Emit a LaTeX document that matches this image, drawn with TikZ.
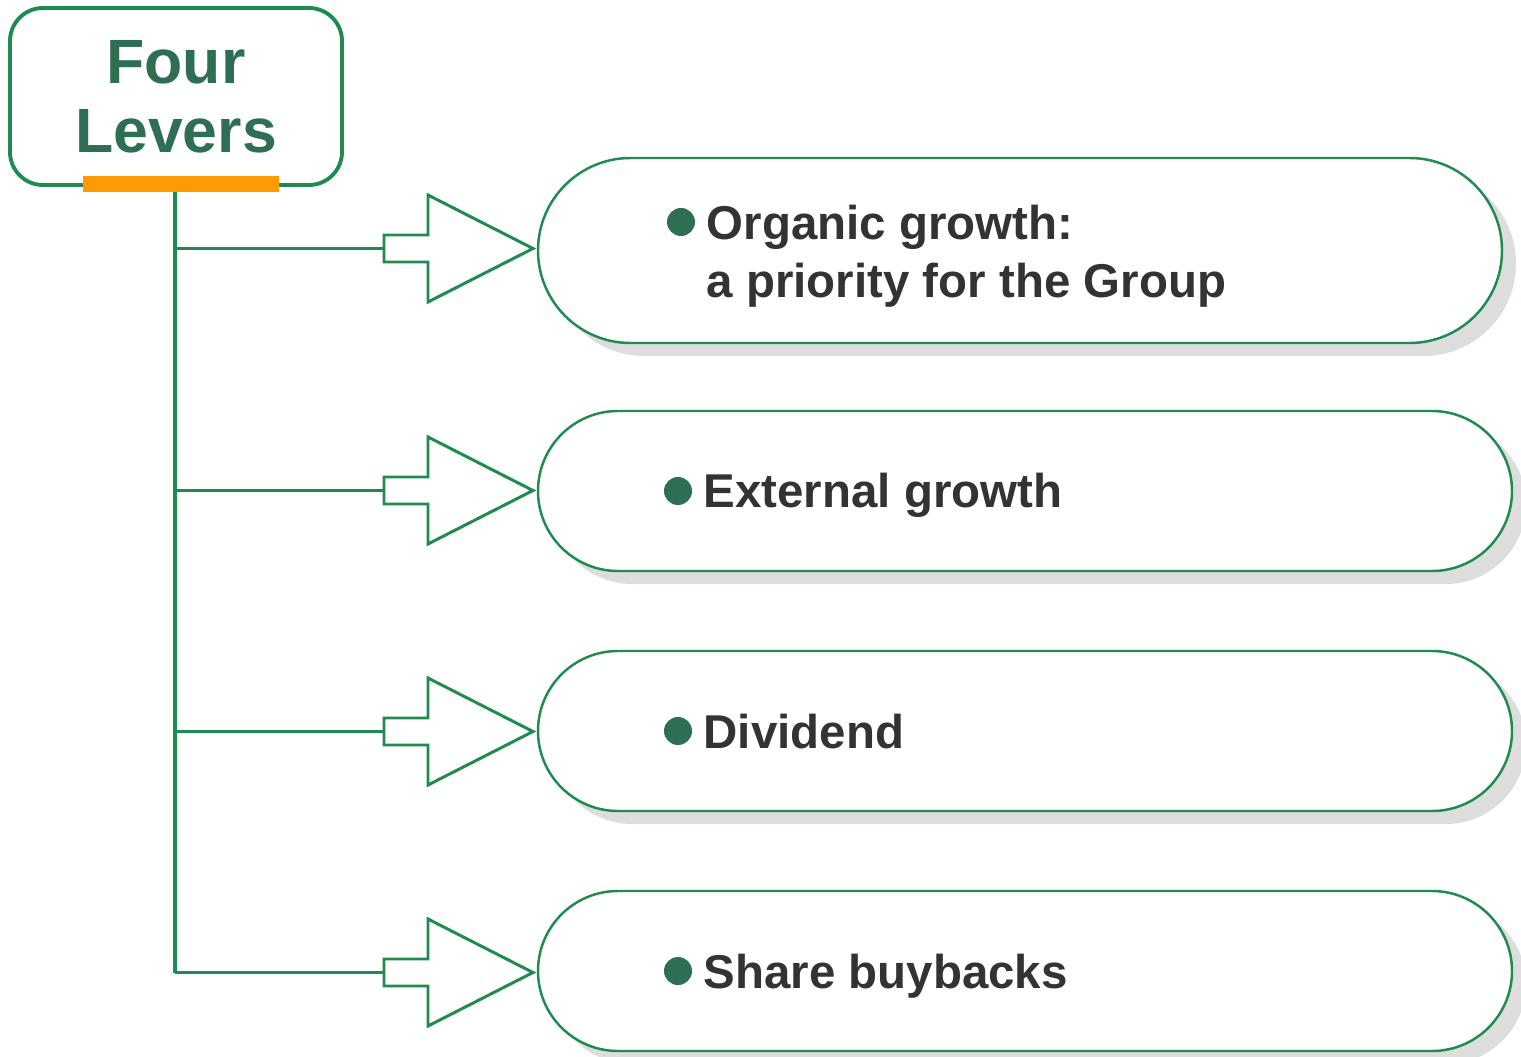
\documentclass[tikz,border=0pt]{standalone}
\usepackage{fontspec}
\setmainfont{Liberation Sans}
\usetikzlibrary{shadows}
\definecolor{colorLine}{HTML}{1F8B50}
\definecolor{colorTitle}{HTML}{2E6E52}
\definecolor{colorBar}{HTML}{FF9A00}
\definecolor{colorText}{HTML}{333333}
\definecolor{colorShadow}{HTML}{DDDDDD}

\tikzset{
    titlebox/.style={draw=colorLine, line width=1.1pt, rounded corners=0.33cm,
        minimum width=3.32cm, minimum height=1.77cm, align=center, text=colorTitle,
        font=\fontsize{17.8}{19.6}\selectfont\bfseries},
    levelbar/.style={fill=colorBar, minimum width=1.96cm, minimum height=0.16cm, inner sep=0pt},
    trunk/.style={draw=colorLine, line width=1.1pt},
    arrowline/.style={draw=colorLine, line width=0.85pt, fill=white, line join=miter},
    pill/.style={draw=colorLine, line width=0.7pt, fill=white, inner sep=0pt,
        drop shadow={shadow xshift=0.14cm, shadow yshift=-0.13cm, fill=colorShadow, opacity=1}},
    bigpill/.style={pill, minimum width=9.64cm, minimum height=1.85cm, rounded corners=0.925cm},
    smallpill/.style={pill, minimum width=9.74cm, minimum height=1.60cm, rounded corners=0.8cm},
    dot/.style={circle, fill=colorTitle, minimum size=0.28cm, inner sep=0pt},
    item/.style={text=colorText, align=left, inner sep=0pt,
        font=\fontsize{13.5}{17.2}\selectfont\bfseries},
    leverarrow/.pic={
        \draw[arrowline] (0,0.135) -- (0.44,0.135) -- (0.44,0.535) -- (1.49,0)
            -- (0.44,-0.535) -- (0.44,-0.135) -- (0,-0.135) -- cycle;
        \coordinate (-tail) at (0,0);
        \coordinate (-tip) at (1.49,0);
    }
}

\begin{document}
\begin{tikzpicture}
        \useasboundingbox (0,0) rectangle (15.21,-10.57);

        \node[titlebox] (title) at (1.76,-0.965) {Four\\Levers};
        \node[levelbar] (bar) at (1.81,-1.84) {};

        \coordinate (root) at (1.75,-1.92);
        \coordinate (j1) at (1.75,-2.485);
        \coordinate (j2) at (1.75,-4.905);
        \coordinate (j3) at (1.75,-7.315);
        \coordinate (j4) at (1.75,-9.725);

        \pic (a1) at (3.84,-2.485) {leverarrow};
        \pic (a2) at (3.84,-4.905) {leverarrow};
        \pic (a3) at (3.84,-7.315) {leverarrow};
        \pic (a4) at (3.84,-9.725) {leverarrow};

        \draw[trunk] (root) -- (j4);
        \draw[trunk] (j1) -- (a1-tail);
        \draw[trunk] (j2) -- (a2-tail);
        \draw[trunk] (j3) -- (a3-tail);
        \draw[trunk] (j4) -- (a4-tail);

        \node[bigpill] (p1) at (10.20,-2.505) {};
        \node[smallpill] (p2) at (10.25,-4.91) {};
        \node[smallpill] (p3) at (10.25,-7.31) {};
        \node[smallpill] (p4) at (10.25,-9.71) {};

        \node[dot] (d1) at (6.81,-2.22) {};
        \node[item, anchor=base west] (t1) at (7.06,-2.40) {Organic growth:};
        \node[item, anchor=base west] (t1b) at (7.06,-2.98) {a priority for the Group};

        \node[dot] (d2) at (6.78,-4.91) {};
        \node[item, anchor=base west] (t2) at (7.03,-5.08) {External growth};

        \node[dot] (d3) at (6.78,-7.31) {};
        \node[item, anchor=base west] (t3) at (7.03,-7.48) {Dividend};

        \node[dot] (d4) at (6.78,-9.71) {};
        \node[item, anchor=base west] (t4) at (7.03,-9.88) {Share buybacks};
    \end{tikzpicture}
\end{document}
